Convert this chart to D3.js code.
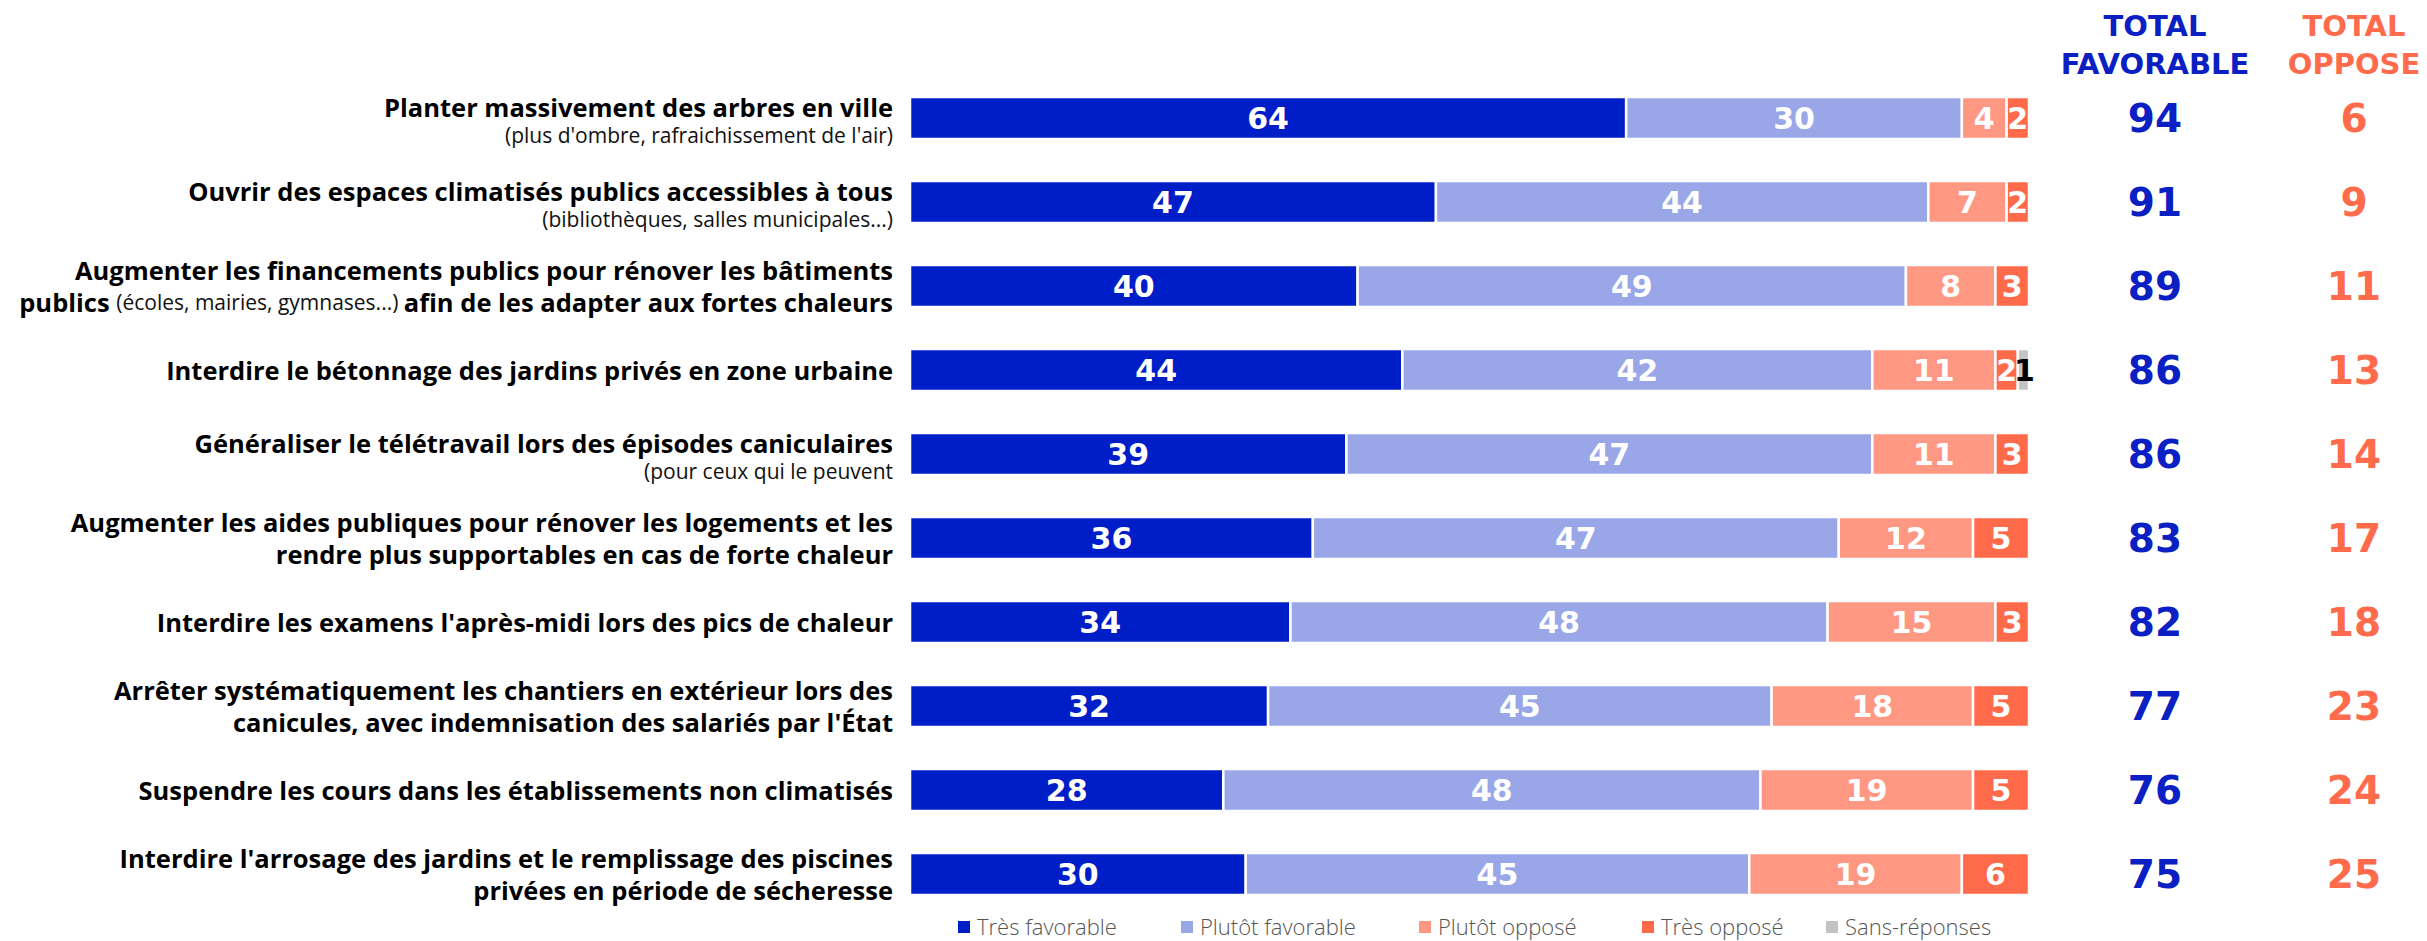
<!DOCTYPE html>
<html><head><meta charset="utf-8">
<script src="https://cdn.jsdelivr.net/npm/d3@7"></script>
<style>
html,body{margin:0;padding:0;background:#fff;}
svg{display:block;}
</style></head>
<body>
<svg id="chart" width="2427" height="941"></svg>
<script>
// ---- DATA ----
const categories = [
  "Planter massivement des arbres en ville",
  "Ouvrir des espaces climatisés publics accessibles à tous",
  "Augmenter les financements publics pour rénover les bâtiments publics afin de les adapter aux fortes chaleurs",
  "Interdire le bétonnage des jardins privés en zone urbaine",
  "Généraliser le télétravail lors des épisodes caniculaires",
  "Augmenter les aides publiques pour rénover les logements et les rendre plus supportables en cas de forte chaleur",
  "Interdire les examens l'après-midi lors des pics de chaleur",
  "Arrêter systématiquement les chantiers en extérieur lors des canicules, avec indemnisation des salariés par l'État",
  "Suspendre les cours dans les établissements non climatisés",
  "Interdire l'arrosage des jardins et le remplissage des piscines privées en période de sécheresse"
];
// label lines: each line is a list of [text, kind] where kind b = bold, s = small light
const labelLines = [
  [[["Planter massivement des arbres en ville","b"]],[["(plus d'ombre, rafraichissement de l'air)","s"]]],
  [[["Ouvrir des espaces climatisés publics accessibles à tous","b"]],[["(bibliothèques, salles municipales...)","s"]]],
  [[["Augmenter les financements publics pour rénover les bâtiments","b"]],[["publics ","b"],["(écoles, mairies, gymnases...) ","s"],["afin de les adapter aux fortes chaleurs","b"]]],
  [[["Interdire le bétonnage des jardins privés en zone urbaine","b"]]],
  [[["Généraliser le télétravail lors des épisodes caniculaires","b"]],[["(pour ceux qui le peuvent","s"]]],
  [[["Augmenter les aides publiques pour rénover les logements et les","b"]],[["rendre plus supportables en cas de forte chaleur","b"]]],
  [[["Interdire les examens l'après-midi lors des pics de chaleur","b"]]],
  [[["Arrêter systématiquement les chantiers en extérieur lors des","b"]],[["canicules, avec indemnisation des salariés par l'État","b"]]],
  [[["Suspendre les cours dans les établissements non climatisés","b"]]],
  [[["Interdire l'arrosage des jardins et le remplissage des piscines","b"]],[["privées en période de sécheresse","b"]]]
];
const seriesNames = ["Très favorable","Plutôt favorable","Plutôt opposé","Très opposé","Sans-réponses"];
const tresFavorable   = [64,47,40,44,39,36,34,32,28,30];
const plutotFavorable = [30,44,49,42,47,47,48,45,48,45];
const plutotOppose    = [4,7,8,11,11,12,15,18,19,19];
const tresOppose      = [2,2,3,2,3,5,3,5,5,6];
const sansReponses    = [0,0,0,1,0,0,0,0,0,0];
const totalFavorable  = [94,91,89,86,86,83,82,77,76,75];
const totalOppose     = [6,9,11,13,14,17,18,23,24,25];
const totalHeaders = [["TOTAL","FAVORABLE"],["TOTAL","OPPOSE"]];

// ---- STYLE ----
const colors = ["#001ec8","#99a7e8","#ff9882","#ff6a4b","#c3c3c3"];
const labelColors = ["#fff","#fff","#fff","#fff","#000"];
const favColor = "#0a20c2", oppColor = "#ff6b4b";

const svg = d3.select("#chart");
const x = d3.scaleLinear().domain([0,100]).range([910,2029]);
const y = d3.scaleBand().domain(d3.range(categories.length)).range([76,916]).paddingInner(0.5).paddingOuter(0.25);

const rows = categories.map((c,i)=>({i, vals:[tresFavorable[i],plutotFavorable[i],plutotOppose[i],tresOppose[i],sansReponses[i]]}));
const stackData = rows.map(r=>{const o={i:r.i}; seriesNames.forEach((s,k)=>o[s]=r.vals[k]); return o;});
const stack = d3.stack().keys(seriesNames)(stackData);

const g = svg.append("g");
stack.forEach((layer,k)=>{
  const lg = g.append("g");
  lg.selectAll("rect").data(layer.filter(d=>d[1]-d[0]>0)).join("rect")
    .attr("x",d=>x(d[0])).attr("width",d=>x(d[1])-x(d[0]))
    .attr("y",d=>y(d.data.i)).attr("height",y.bandwidth())
    .attr("fill",colors[k]).attr("stroke","#fff").attr("stroke-width",2.5);
  lg.selectAll("text").data(layer.filter(d=>d[1]-d[0]>0)).join("text")
    .attr("x",d=>(x(d[0])+x(d[1]))/2 + (k===4?1:0))
    .attr("y",d=>y(d.data.i)+y.bandwidth()/2)
    .attr("text-anchor","middle").attr("dominant-baseline","central")
    .attr("fill",labelColors[k])
    .style("font-family","'DejaVu Sans',sans-serif").style("font-weight","bold").style("font-size","30px")
    .text(d=>d[1]-d[0]);
});

// category labels
const labelX = 893;
labelLines.forEach((lines,i)=>{
  const cy = y(i)+y.bandwidth()/2;
  let offs;
  if(lines.length===1) offs=[0];
  else if(lines[1].length===1 && lines[1][0][1]==="s") offs=[-11,17];
  else offs=[-16,16];
  lines.forEach((line,j)=>{
    const t = svg.append("text").attr("x",labelX).attr("y",cy+offs[j])
      .attr("text-anchor","end").attr("dominant-baseline","central").attr("fill","#000");
    line.forEach(([txt,kind])=>{
      t.append("tspan").text(txt)
        .attr("fill",kind==="b"?"#000":"#111")
        .style("font-family","'Open Sans',sans-serif")
        .style("font-weight",kind==="b"?"700":"400")
        .style("font-size",kind==="b"?"25.5px":"21px");
    });
  });
});

// totals
const colX = [2155,2354];
const colColors = [favColor,oppColor];
totalHeaders.forEach((h,k)=>{
  h.forEach((line,j)=>{
    svg.append("text").attr("x",colX[k]).attr("y",36+j*38).attr("text-anchor","middle")
      .attr("fill",colColors[k])
      .style("font-family","'DejaVu Sans',sans-serif").style("font-weight","bold").style("font-size","29px")
      .text(line);
  });
});
[totalFavorable,totalOppose].forEach((arr,k)=>{
  svg.append("g").selectAll("text").data(arr).join("text")
    .attr("x",colX[k]).attr("y",(d,i)=>y(i)+y.bandwidth()/2)
    .attr("text-anchor","middle").attr("dominant-baseline","central")
    .attr("fill",colColors[k])
    .style("font-family","'DejaVu Sans',sans-serif").style("font-weight","bold").style("font-size","39px")
    .text(d=>d);
});

// legend
const legendX = [958,1181,1419,1642,1826];
const lg = svg.append("g");
seriesNames.forEach((s,k)=>{
  lg.append("rect").attr("x",legendX[k]).attr("y",921).attr("width",12).attr("height",12).attr("fill",colors[k]);
  lg.append("text").attr("x",legendX[k]+19).attr("y",926).attr("dominant-baseline","central")
    .attr("fill","#555")
    .style("font-family","'Open Sans',sans-serif").style("font-weight","300").style("font-size","22px")
    .text(s);
});
</script>
</body></html>
